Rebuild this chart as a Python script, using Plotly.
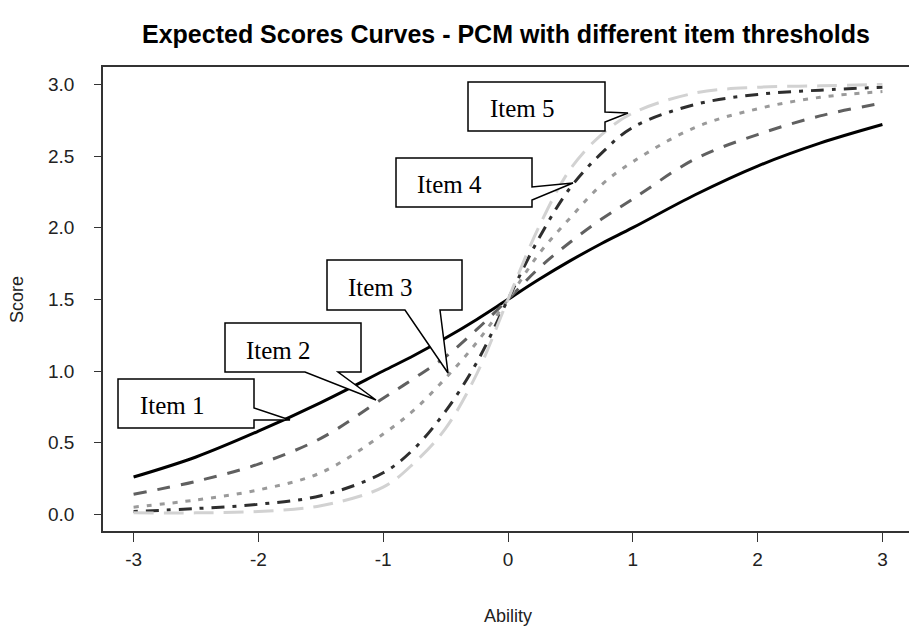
import plotly.graph_objects as go

# ---- data ----
ability = [-3, -2.5, -2, -1.5, -1, -0.75, -0.5, -0.25, 0, 0.25, 0.5, 0.75, 1, 1.5, 2, 2.5, 3]
item1 = [0.26, 0.40, 0.58, 0.78, 1.00, 1.11, 1.23, 1.36, 1.50, 1.64, 1.77, 1.89, 2.00, 2.23, 2.43, 2.59, 2.72]
item2 = [0.14, 0.23, 0.35, 0.53, 0.81, 0.95, 1.10, 1.29, 1.50, 1.72, 1.90, 2.06, 2.20, 2.48, 2.65, 2.78, 2.87]
item3 = [0.05, 0.10, 0.17, 0.29, 0.56, 0.73, 0.95, 1.20, 1.50, 1.82, 2.07, 2.30, 2.46, 2.70, 2.83, 2.91, 2.95]
item4 = [0.02, 0.04, 0.07, 0.13, 0.29, 0.46, 0.72, 1.06, 1.50, 1.93, 2.28, 2.52, 2.70, 2.86, 2.93, 2.96, 2.98]
item5 = [0.01, 0.01, 0.02, 0.06, 0.19, 0.36, 0.60, 0.98, 1.50, 2.01, 2.41, 2.65, 2.80, 2.94, 2.98, 2.99, 3.00]
item_names = ["Item 1", "Item 2", "Item 3", "Item 4", "Item 5"]
x_ticks = [-3, -2, -1, 0, 1, 2, 3]
y_ticks = [0.0, 0.5, 1.0, 1.5, 2.0, 2.5, 3.0]

# ---- layout geometry ----
W, H = 909, 632
ML, MR, MT, MB = 103, 0, 67, 101
XR = [-3.245, 3.213]
YR = [-0.1165, 3.1214]
PW, PH = W - ML - MR, H - MT - MB


def X(px):
    return XR[0] + (px - ML) / PW * (XR[1] - XR[0])


def Y(py):
    return YR[0] + (H - MB - py) / PH * (YR[1] - YR[0])


styles = [
    dict(color="#000000", dash="solid"),
    dict(color="#606060", dash="13px,11px"),
    dict(color="#9a9a9a", dash="5px,8px"),
    dict(color="#2e2e2e", dash="4px,8px,13px,8px"),
    dict(color="#d2d2d2", dash="20px,10px"),
]

fig = go.Figure()
for name, ys, st in zip(item_names, [item1, item2, item3, item4, item5], styles):
    fig.add_trace(go.Scatter(
        x=ability, y=ys, mode="lines", name=name,
        line=dict(color=st["color"], dash=st["dash"], width=3, shape="spline", smoothing=1.0),
        showlegend=False, hoverinfo="skip"))


def path(points):
    return "M " + " L ".join(f"{X(px):.4f},{Y(py):.4f}" for px, py in points) + " Z"


callouts = [
    # (outline points in pixel space, text x, text y)
    ([(118, 379), (254, 379), (254, 408), (290, 420), (254, 420), (254, 428), (118, 428)], 138, 405),
    ([(225, 323), (361, 323), (361, 372), (338, 372), (376, 400), (305, 372), (225, 372)], 244, 350),
    ([(327, 260), (462, 260), (462, 310), (440, 310), (448, 373), (405, 310), (327, 310)], 346, 287),
    ([(396, 158), (532, 158), (532, 187), (573, 183), (532, 200), (532, 207), (396, 207)], 415, 184),
    ([(468, 82), (605, 82), (605, 112), (628, 113), (605, 122), (605, 131), (468, 131)], 488, 108),
]
shapes = []
annotations = []
for (pts, tx, ty), name in zip(callouts, item_names):
    shapes.append(dict(type="path", path=path(pts), xref="x", yref="y",
                       line=dict(color="#000000", width=1.5), fillcolor="#ffffff", layer="above"))
    annotations.append(dict(x=X(tx), y=Y(ty), xref="x", yref="y", text=name, showarrow=False,
                            xanchor="left", yanchor="middle",
                            font=dict(family="Liberation Serif, Times New Roman, serif", size=25, color="#000000")))

annotations.append(dict(x=(17 - ML) / PW, y=(H - MB - 300) / PH, xref="paper", yref="paper",
                        text="Score", showarrow=False, textangle=-90, xanchor="center", yanchor="middle",
                        font=dict(family="Liberation Sans, Arial, sans-serif", size=18, color="#222222")))
annotations.append(dict(x=(508 - ML) / PW, y=(H - MB - 616) / PH, xref="paper", yref="paper",
                        text="Ability", showarrow=False, xanchor="center", yanchor="middle",
                        font=dict(family="Liberation Sans, Arial, sans-serif", size=18, color="#222222")))

fig.update_layout(
    width=W, height=H,
    margin=dict(l=ML, r=MR, t=MT, b=MB),
    paper_bgcolor="#ffffff", plot_bgcolor="#ffffff",
    title=dict(text="<b>Expected Scores Curves - PCM with different item thresholds</b>",
               x=(506 - ML) / PW, xref="paper", xanchor="center",
               y=1 - 34 / H, yref="container", yanchor="middle",
               font=dict(family="Liberation Sans, Arial, sans-serif", size=25, color="#000000")),
    shapes=shapes, annotations=annotations,
    xaxis=dict(range=XR, tickvals=x_ticks, ticktext=[str(v) for v in x_ticks],
               showgrid=False, zeroline=False, showline=True, linecolor="#333333", linewidth=1.5,
               mirror=True, ticks="outside", ticklen=9, tickwidth=1.2, tickcolor="#333333",
               ticklabelstandoff=1,
               tickfont=dict(family="Liberation Sans, Arial, sans-serif", size=19, color="#222222")),
    yaxis=dict(range=YR, tickvals=y_ticks, ticktext=[f"{v:.1f}" for v in y_ticks],
               showgrid=False, zeroline=False, showline=True, linecolor="#333333", linewidth=1.5,
               ticks="outside", ticklen=7, tickwidth=1.2, tickcolor="#333333",
               ticklabelstandoff=16,
               tickfont=dict(family="Liberation Sans, Arial, sans-serif", size=19, color="#222222")),
)

fig.write_html("out.html", config={"displayModeBar": False},
               post_script="document.body.style.margin='0';document.body.style.padding='0';")
